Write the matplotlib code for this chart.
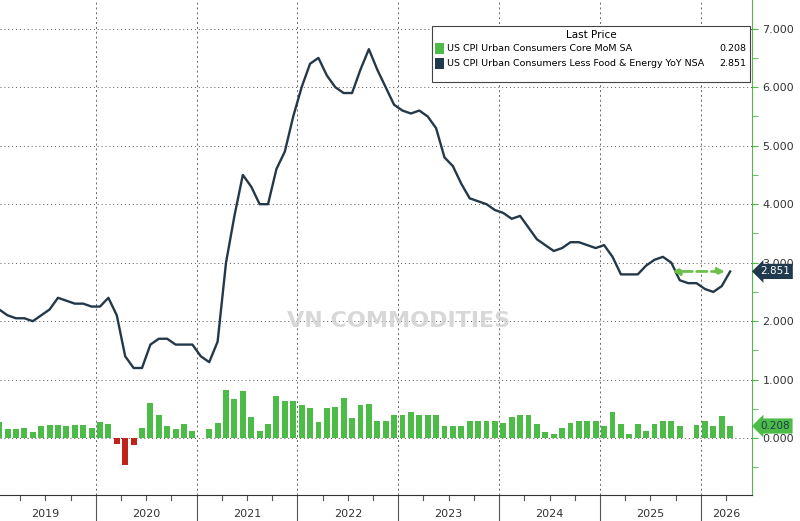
import matplotlib
matplotlib.use("Agg")
import matplotlib.pyplot as plt
import numpy as np

years = ["2019", "2020", "2021", "2022", "2023", "2024", "2025", "2026"]
core_yoy = [2.2, 2.1, 2.05, 2.05, 2.0, 2.1, 2.2, 2.4, 2.35, 2.3, 2.3, 2.25,
            2.25, 2.4, 2.1, 1.4, 1.2, 1.2, 1.6, 1.7, 1.7, 1.6, 1.6, 1.6,
            1.4, 1.3, 1.65, 3.0, 3.8, 4.5, 4.3, 4.0, 4.0, 4.6, 4.9, 5.5,
            6.0, 6.4, 6.5, 6.2, 6.0, 5.9, 5.9, 6.3, 6.65, 6.3, 6.0, 5.7,
            5.6, 5.55, 5.6, 5.5, 5.3, 4.8, 4.65, 4.35, 4.1, 4.05, 4.0, 3.9,
            3.85, 3.75, 3.8, 3.6, 3.4, 3.3, 3.2, 3.25, 3.35, 3.35, 3.3, 3.25,
            3.3, 3.1, 2.8, 2.8, 2.8, 2.95, 3.05, 3.1, 3.0, 2.7, 2.65, 2.65,
            2.55, 2.5, 2.6, 2.85]
core_mom = [0.27, 0.15, 0.15, 0.18, 0.1, 0.2, 0.22, 0.23, 0.2, 0.23, 0.23, 0.18,
            0.27, 0.25, -0.1, -0.45, -0.12, 0.18, 0.6, 0.4, 0.2, 0.15, 0.25, 0.12,
            0.01, 0.15, 0.26, 0.83, 0.67, 0.8, 0.37, 0.12, 0.25, 0.72, 0.63, 0.63,
            0.56, 0.52, 0.27, 0.51, 0.53, 0.68, 0.35, 0.57, 0.58, 0.3, 0.3, 0.4,
            0.4, 0.45, 0.4, 0.4, 0.4, 0.2, 0.2, 0.2, 0.3, 0.3, 0.3, 0.3,
            0.26, 0.36, 0.4, 0.4, 0.25, 0.1, 0.07, 0.17, 0.26, 0.3, 0.3, 0.3,
            0.2, 0.45, 0.25, 0.08, 0.25, 0.12, 0.25, 0.3, 0.3, 0.2, np.nan, 0.23,
            0.3, 0.2, 0.38, 0.21]

fig = plt.figure(figsize=(8, 5.21), dpi=100)
ax = fig.add_axes([0, 0.05, 0.94, 0.95])
x = np.arange(len(core_yoy)) + 0.5
mom = np.array(core_mom)
colors = ["#c0231c" if v < 0 else "#4cbb47" for v in np.nan_to_num(mom)]
ax.bar(x, np.nan_to_num(mom), width=0.7, color=colors, zorder=2)
ax.plot(x, core_yoy, color="#23394a", lw=1.7, zorder=3, solid_joinstyle="round")

ax.set_xlim(0.6, 90.1)
ax.set_ylim(-0.97, 7.49)
ax.yaxis.tick_right()
ax.set_yticks(range(0, 8))
ax.set_yticklabels([f"{v}.000" for v in range(0, 8)], fontsize=8, color="#333333")
ax.set_yticks(np.arange(-0.5, 7.5, 1), minor=True)
ax.tick_params(axis="y", which="both", colors="#4cbb47", length=4, labelcolor="#333333")
for v in range(0, 8):
    ax.axhline(v, color="#555555", lw=0.7, ls=(0, (1, 3)), zorder=1)
for k in range(1, 8):
    ax.axvline(12 * k, color="#666666", lw=0.7, ls=(0, (2, 3)), zorder=1)
ax.set_xticks([])
for s in ["top", "left"]:
    ax.spines[s].set_visible(False)
ax.spines["right"].set_color("#4cbb47")
ax.spines["bottom"].set_color("#333333")

for k, yr in enumerate(years):
    c = 12 * k + 6 if k < 7 else 84 + 3
    ax.text(c, -1.3, yr, ha="center", va="center", fontsize=8, color="#333333", clip_on=False)
    if k > 0:
        ax.plot([12 * k, 12 * k], [-0.97, -1.5], color="#555555", lw=0.8, clip_on=False)
for q in range(3, 90, 3):
    if q % 12:
        ax.plot([q, q], [-0.97, -1.05], color="#555555", lw=0.8, clip_on=False)

ax.text(48, 2.0, "VN COMMODITIES", ha="center", va="center", fontsize=16,
        color="#cfcfcf", fontweight="bold", alpha=0.8, zorder=1)

ax.annotate("2.851", xy=(1.0, 2.851), xycoords=("axes fraction", "data"), xytext=(6, 0),
            textcoords="offset points", va="center", fontsize=7.5, color="white",
            bbox=dict(boxstyle="larrow,pad=0.25", fc="#1f3a4d", ec="none"), annotation_clip=False,
            zorder=10)
ax.annotate("0.208", xy=(1.0, 0.208), xycoords=("axes fraction", "data"), xytext=(6, 0),
            textcoords="offset points", va="center", fontsize=7.5, color="#1f3a4d",
            bbox=dict(boxstyle="larrow,pad=0.25", fc="#4cbb47", ec="none"), annotation_clip=False)
ax.annotate("", xy=(80.3, 2.85), xytext=(87.2, 2.85),
            arrowprops=dict(arrowstyle="<|-|>", color="#6cc04a", lw=2, ls="--"))

lx = 0.575
box = plt.Rectangle((lx, 0.835), 0.422, 0.113, transform=ax.transAxes, fc="white",
                    ec="#444444", lw=0.8, zorder=5)
ax.add_patch(box)
ax.text(lx + 0.211, 0.93, "Last Price", transform=ax.transAxes, ha="center",
        va="center", fontsize=7.5, zorder=6)
rows = [("US CPI Urban Consumers Core MoM SA", "0.208", "#4cbb47"),
        ("US CPI Urban Consumers Less Food & Energy YoY NSA", "2.851", "#1f3a4d")]
for i, (lab, val, col) in enumerate(rows):
    yy = 0.902 - i * 0.03
    ax.add_patch(plt.Rectangle((lx + 0.004, yy - 0.011), 0.012, 0.022,
                 transform=ax.transAxes, fc=col, zorder=6))
    ax.text(lx + 0.02, yy, lab, transform=ax.transAxes, va="center", fontsize=6.8, zorder=6)
    ax.text(lx + 0.418, yy, val, transform=ax.transAxes, va="center", ha="right", fontsize=6.8, zorder=6)

fig.savefig("out.png", dpi=100)
